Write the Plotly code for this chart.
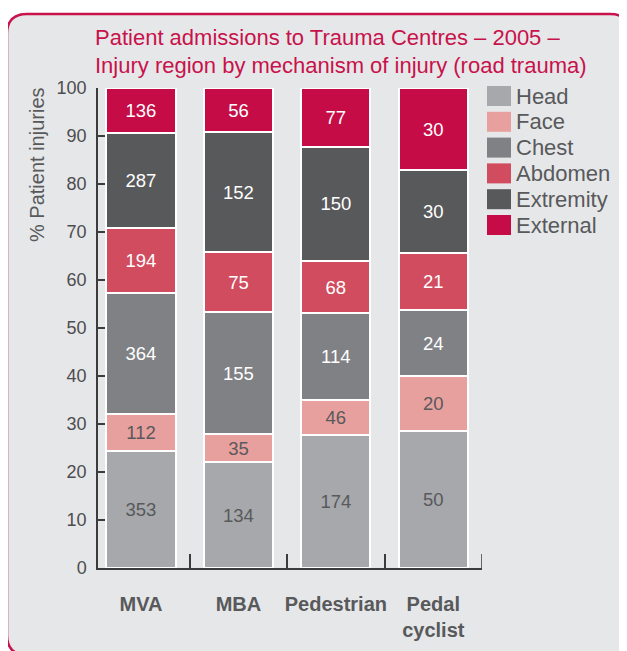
import plotly.graph_objects as go

# ---- data ----
categories = ["MVA", "MBA", "Pedestrian", "Pedal<br>cyclist"]
series_names = ["Head", "Face", "Chest", "Abdomen", "Extremity", "External"]
head = [353, 134, 174, 50]
face = [112, 35, 46, 20]
chest = [364, 155, 114, 24]
abdomen = [194, 75, 68, 21]
extremity = [287, 152, 150, 30]
external = [136, 56, 77, 30]
y_ticks = [0, 10, 20, 30, 40, 50, 60, 70, 80, 90, 100]
title_lines = ["Patient admissions to Trauma Centres – 2005 –",
               "Injury region by mechanism of injury (road trauma)"]
y_title = "% Patient injuries"

series_values = [head, face, chest, abdomen, extremity, external]
colors = ["#a7a8ab", "#e8a09e", "#808184", "#d04c5e", "#58595b", "#c60c46"]
text_colors = ["#58595b", "#58595b", "#ffffff", "#ffffff", "#ffffff", "#ffffff"]

OFF = 8  # page body margin
W, H = 627, 651
# target positions in window pixels
PL, PR, PT, PB = 98, 482, 88, 568
ML, MT = PL - OFF, PT - OFF
MR = W - (PR - OFF)
MB = H - (PB - OFF)
PW, PH = W - ML - MR, H - MT - MB


def px(x):
    return (x - OFF - ML) / PW


def py(y):
    return (H - MB - (y - OFF)) / PH


FONT = "Liberation Sans, Arial, sans-serif"
CRIMSON = "#c8124b"
GREY_TXT = "#58595b"

fig = go.Figure()
for name, vals, col, tcol in zip(series_names, series_values, colors, text_colors):
    fig.add_trace(go.Bar(
        x=categories, y=vals, name=name,
        marker=dict(color=col, line=dict(color="white", width=2)),
        text=[str(v) for v in vals], textposition="inside",
        insidetextanchor="middle", textangle=0, constraintext="none",
        textfont=dict(color=tcol, size=18.5, family=FONT),
        hoverinfo="skip", showlegend=False,
    ))

shapes = []
# rounded frame
x0, x1, y0, y1, r = 7, 630, 14, 655, 20
path = (f"M {px(x0)},{py(y0 + r)} Q {px(x0)},{py(y0)} {px(x0 + r)},{py(y0)} "
        f"L {px(x1 - r)},{py(y0)} Q {px(x1)},{py(y0)} {px(x1)},{py(y0 + r)} "
        f"L {px(x1)},{py(y1 - r)} Q {px(x1)},{py(y1)} {px(x1 - r)},{py(y1)} "
        f"L {px(x0 + r)},{py(y1)} Q {px(x0)},{py(y1)} {px(x0)},{py(y1 - r)} Z")
shapes.append(dict(type="path", path=path, xref="paper", yref="paper",
                   fillcolor="#e6e7e9", line=dict(color=CRIMSON, width=2.5),
                   layer="below"))

annotations = []
# custom legend
for i, (name, col) in enumerate(zip(series_names, colors)):
    top = 86 + i * 25.8
    shapes.append(dict(type="rect", xref="paper", yref="paper",
                       x0=px(487), x1=px(511), y0=py(top), y1=py(top + 20),
                       fillcolor=col, line=dict(width=0), layer="above"))
    annotations.append(dict(x=px(514), y=py(top + 10), xref="paper", yref="paper",
                            text=name, showarrow=False, xanchor="left", yanchor="middle",
                            font=dict(size=22, color=GREY_TXT, family=FONT)))

for line, yc in zip(title_lines, [38, 66]):
    annotations.append(dict(x=px(93), y=py(yc), xref="paper", yref="paper",
                            text=line, showarrow=False, xanchor="left", yanchor="middle",
                            font=dict(size=22, color=CRIMSON, family=FONT)))

annotations.append(dict(x=px(37), y=py(165), xref="paper", yref="paper",
                        text=y_title, showarrow=False, textangle=-90,
                        xanchor="center", yanchor="middle",
                        font=dict(size=20, color=GREY_TXT, family=FONT)))

fig.update_layout(
    width=W, height=H,
    margin=dict(l=ML, r=MR, t=MT, b=MB, pad=0, autoexpand=False),
    paper_bgcolor="white", plot_bgcolor="rgba(0,0,0,0)",
    barmode="stack", barnorm="percent", bargap=0.29,
    font=dict(family=FONT, color=GREY_TXT),
    shapes=shapes, annotations=annotations,
    xaxis=dict(range=[-0.441, 3.5], showgrid=False, zeroline=False, showline=True,
               linecolor="#3c3c3c", linewidth=1.5, ticks="inside",
               tickson="boundaries", ticklen=14,
               tickcolor="#3c3c3c", tickwidth=1.5, ticklabelstandoff=17,
               tickangle=0, automargin=False,
               tickfont=dict(size=20, color=GREY_TXT, family=FONT, weight="bold")),
    yaxis=dict(range=[0, 100], tickvals=y_ticks, showgrid=False, zeroline=False,
               showline=True, linecolor="#3c3c3c", linewidth=1.5, ticks="inside",
               ticklen=7, tickcolor="#3c3c3c", tickwidth=1.5, ticklabelstandoff=6,
               automargin=False,
               tickfont=dict(size=18, color="#4d4d4f")),
)
# end tick at the right end of the category axis, as in the reference
shapes.append(dict(type="line", xref="x", yref="paper", x0=3.5, x1=3.5,
                   y0=0, y1=14 / PH, line=dict(color="#3c3c3c", width=1.5)))
fig.update_layout(shapes=shapes)

fig.write_html("out.html")
